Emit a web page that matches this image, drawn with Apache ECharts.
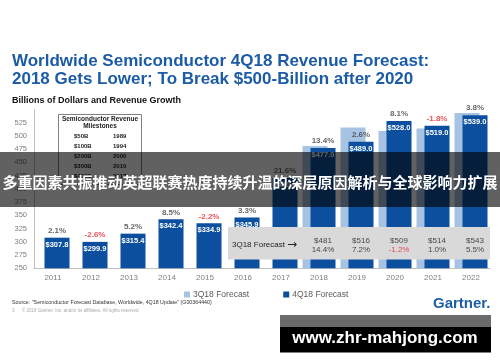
<!DOCTYPE html>
<html>
<head>
<meta charset="utf-8">
<script src="https://cdn.jsdelivr.net/npm/echarts@6/dist/echarts.min.js"></script>
<style>
html,body{margin:0;padding:0;background:#fff;}
#c{width:500px;height:362px;}
</style>
</head>
<body>
<div id="c"></div>
<script>
// ---- data ----
const years = ['2011','2012','2013','2014','2015','2016','2017','2018','2019','2020','2021','2022'];
const rev4Q = [307.8, 299.9, 315.4, 342.4, 334.9, 345.9, 420.4, 477.0, 489.0, 528.0, 519.0, 539.0];
const growth4Q = ['2.1%','-2.6%','5.2%','8.5%','-2.2%','3.3%','21.6%','13.4%','2.6%','8.1%','-1.8%','3.8%'];
const rev3Q = [null, null, null, null, null, null, null, 481, 516, 509, 514, 543];
const growth3Q = [null, null, null, null, null, null, null, '14.4%','7.2%','-1.2%','1.0%','5.5%'];
const yMin = 250, yMax = 550, yStep = 25;
const milestoneAmounts = ['$50B','$100B','$200B','$300B','$400B'];
const milestoneYears = ['1989','1994','2000','2010','2017'];
const seriesNames = ['3Q18 Forecast','4Q18 Forecast'];

const DARK = '#0b4f9e', LIGHT = '#a7c3e3', RED = '#e8262b';
const FONT = 'Liberation Sans, Arial, sans-serif';
const FORECAST_ROW = 294; // vertical anchor of the 3Q18 forecast row (in axis units)

const chart = echarts.init(document.getElementById('c'), null, {renderer:'canvas'});

const growthColor = g => (g && g.charAt(0) === '-') ? RED : '#404040';

const graphics = [];
// title
graphics.push({type:'text', left:12, top:53, z:50, style:{text:'Worldwide Semiconductor 4Q18 Revenue Forecast:', fill:'#1c5ca6', font:'bold 17px ' + FONT}});
graphics.push({type:'text', left:12, top:71, z:50, style:{text:'2018 Gets Lower; To Break $500-Billion after 2020', fill:'#1c5ca6', font:'bold 17px ' + FONT}});
graphics.push({type:'text', left:12, top:96, z:50, style:{text:'Billions of Dollars and Revenue Growth', fill:'#111', font:'bold 9px ' + FONT}});
// milestones box
graphics.push({type:'rect', shape:{x:58.5, y:114.5, width:83, height:70}, z:3, style:{fill:'#fff', stroke:'#808080', lineWidth:1}});
graphics.push({type:'text', x:100, y:119, z:4, style:{text:'Semiconductor Revenue', fill:'#222', font:'bold 6.5px ' + FONT, align:'center', verticalAlign:'middle'}});
graphics.push({type:'text', x:100, y:126.5, z:4, style:{text:'Milestones', fill:'#222', font:'bold 6.5px ' + FONT, align:'center', verticalAlign:'middle'}});
milestoneAmounts.forEach((m, i) => {
  graphics.push({type:'text', x:74, y:136 + i*10, z:4, style:{text:m, fill:'#222', font:'bold 6px ' + FONT, verticalAlign:'middle'}});
  graphics.push({type:'text', x:113, y:136 + i*10, z:4, style:{text:milestoneYears[i], fill:'#222', font:'bold 6px ' + FONT, verticalAlign:'middle'}});
});
// forecast box
graphics.push({type:'rect', shape:{x:228, y:227, width:262, height:32.5}, z:5, style:{fill:'#d9d9d9'}});
graphics.push({type:'text', x:232, y:245, z:6, style:{text:'3Q18 Forecast', fill:'#222', font:'8px ' + FONT, verticalAlign:'middle'}});
graphics.push({type:'text', x:287, y:244.5, z:6, style:{text:'\u2192', fill:'#222', font:'12px "DejaVu Sans", sans-serif', verticalAlign:'middle'}});
// source
graphics.push({type:'text', left:12, top:300, z:50, style:{text:'Source: "Semiconductor Forecast Database, Worldwide, 4Q18 Update" (G00364440)', fill:'#333', font:'5.3px ' + FONT}});
graphics.push({type:'text', left:12, top:308, z:50, style:{text:'3      \u00a9 2018 Gartner, Inc. and/or its affiliates. All rights reserved.', fill:'#aaa', font:'4.5px ' + FONT}});
// Gartner logo
graphics.push({type:'text', x:433, y:303.5, z:50, style:{text:'Gartner.', fill:'#1d5fa6', font:'bold 15px ' + FONT, verticalAlign:'middle'}});
// overlay banner
graphics.push({type:'rect', shape:{x:0, y:152, width:500, height:55}, z:100, style:{fill:'rgba(0,0,0,0.62)'}});
graphics.push({type:'text', x:250, y:182, z:101, style:{text:'多重因素共振推动英超联赛热度持续升温的深层原因解析与全球影响力扩展', fill:'#fff', font:'bold 15px "Noto Sans CJK SC", sans-serif', align:'center', verticalAlign:'middle'}});
// watermark
graphics.push({type:'rect', shape:{x:280, y:315, width:211, height:12}, z:100, style:{fill:'#6a6a6a'}});
graphics.push({type:'rect', shape:{x:280, y:327, width:211, height:25.5}, z:100, style:{fill:'#000'}});
graphics.push({type:'text', x:385, y:338.5, z:101, style:{text:'www.zhr-mahjong.com', fill:'#fff', font:'bold 17px ' + FONT, align:'center', verticalAlign:'middle'}});

const option = {
  backgroundColor:'#fff',
  animation:false,
  textStyle:{fontFamily:FONT},
  grid:{left:34, right:10, top:109.4, bottom:93.7, containLabel:false},
  legend:{
    data:seriesNames, left:179, top:285, icon:'rect', itemWidth:6, itemHeight:6, itemGap:34,
    textStyle:{color:'#595959', fontSize:8.5, fontFamily:FONT, padding:[0,0,0,-2]}
  },
  xAxis:{
    type:'category', data:years,
    axisLine:{lineStyle:{color:'#bfbfbf', width:1}},
    axisTick:{show:false},
    axisLabel:{color:'#7f7f7f', fontSize:8, margin:5}
  },
  yAxis:{
    type:'value', min:yMin, max:yMax, interval:yStep,
    axisLine:{show:true, lineStyle:{color:'#bfbfbf'}},
    axisTick:{show:false},
    splitLine:{show:false},
    axisLabel:{color:'#7f7f7f', fontSize:7.5, margin:7, formatter:v => v >= yMax ? '' : v}
  },
  series:[
    {
      name:seriesNames[0], type:'bar', data:rev3Q, barWidth:25, barGap:'-68%',
      itemStyle:{color:LIGHT}, z:2
    },
    {
      name:seriesNames[1], type:'bar', data:rev4Q, barWidth:25,
      itemStyle:{color:DARK}, z:2,
      label:{show:true, position:'insideTop', distance:3, color:'#fff', fontWeight:'bold', fontSize:7.5,
        formatter:p => '$' + p.value.toFixed(1)}
    },
    {
      name:'growth4Q', type:'scatter', symbolSize:0, z:3,
      data:rev4Q.map((v, i) => ({value:v, label:{color:growthColor(growth4Q[i])}})),
      label:{show:true, position:'top', distance:3, offset:[4,0], fontSize:8, fontWeight:'bold',
        formatter:p => growth4Q[p.dataIndex]}
    },
    {
      name:'forecast3Q', type:'scatter', symbolSize:0, z:20,
      data:years.map((y, i) => rev3Q[i] == null ? null : [y, FORECAST_ROW]),
      label:{show:true, position:'inside', offset:[4,0], lineHeight:9, fontSize:8,
        formatter:p => '{v|$' + rev3Q[p.dataIndex] + '}\n{' + (growth3Q[p.dataIndex].charAt(0) === '-' ? 'n' : 'g') + '|' + growth3Q[p.dataIndex] + '}',
        rich:{
          v:{color:'#222', fontSize:8, lineHeight:9, align:'center'},
          g:{color:'#222', fontSize:8, lineHeight:9, align:'center'},
          n:{color:RED, fontSize:8, lineHeight:9, align:'center'}
        }}
    }
  ],
  graphic:graphics
};
chart.setOption(option);
</script>
</body>
</html>
